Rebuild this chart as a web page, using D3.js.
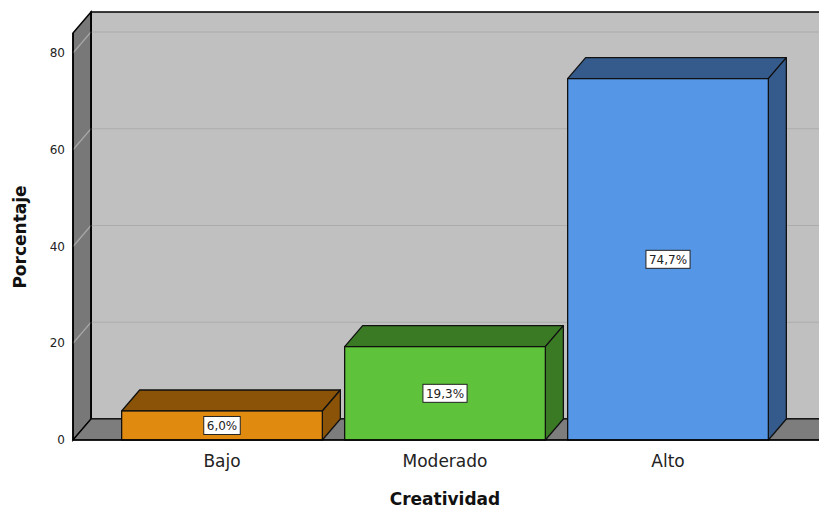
<!DOCTYPE html>
<html><head><meta charset="utf-8">
<script src="https://cdn.jsdelivr.net/npm/d3@7"></script>
<style>body{margin:0;background:#fff}svg{display:block}</style>
</head><body><svg id="c" width="819" height="508"></svg>
<script>
const categories = ["Bajo", "Moderado", "Alto"];
const values = [6.0, 19.3, 74.7];
const valueLabels = ["6,0%", "19,3%", "74,7%"];
const yTicks = [0, 20, 40, 60, 80];
const frontColors = ["#e08b10", "#5ec33a", "#5596e6"];
const darkColors = ["#8a5308", "#3b7a24", "#355b8c"];

const svg = d3.select("#c");
const font = "'DejaVu Sans', sans-serif";
const dx = 18, dy = -21;
const y = d3.scaleLinear().domain([0, 80]).range([440, 53]);
const x = d3.scaleBand().domain(categories).range([110.5, 779.5]).paddingInner(0.1).paddingOuter(0.05);
const left = 73, right = 840, topY = 12;
const y0 = y(0);

// back wall
svg.append("rect").attr("x", left + dx).attr("y", topY).attr("width", right - left).attr("height", y0 + dy - topY)
  .attr("fill", "#c0c0c0").attr("stroke", "#000").attr("stroke-width", 1.5);
// left wall
svg.append("path").attr("d", `M${left},${y(0)}L${left},${topY - dy}L${left + dx},${topY}L${left + dx},${y0 + dy}Z`)
  .attr("fill", "#787878").attr("stroke", "#000").attr("stroke-width", 1.5);
// floor
svg.append("path").attr("d", `M${left},${y0}L${left + dx},${y0 + dy}L${right + dx},${y0 + dy}L${right},${y0}Z`)
  .attr("fill", "#7d7d7d").attr("stroke", "#000").attr("stroke-width", 1.2);

// gridlines
yTicks.filter(t => t > 0).forEach(t => {
  svg.append("line").attr("x1", left + dx).attr("x2", right + dx).attr("y1", y(t) + dy).attr("y2", y(t) + dy)
    .attr("stroke", "#acacac").attr("stroke-width", 1.2);
  svg.append("line").attr("x1", left).attr("x2", left + dx).attr("y1", y(t)).attr("y2", y(t) + dy)
    .attr("stroke", "#a8a8a8").attr("stroke-width", 1.2);
});
// redraw left wall edges
svg.append("line").attr("x1", left + dx).attr("x2", left + dx).attr("y1", topY).attr("y2", y0 + dy).attr("stroke", "#000").attr("stroke-width", 1.5);
svg.append("line").attr("x1", left).attr("x2", left).attr("y1", topY - dy).attr("y2", y0).attr("stroke", "#000").attr("stroke-width", 1.5);

// y tick labels
svg.selectAll(".yt").data(yTicks).enter().append("text")
  .attr("x", 65).attr("y", d => y(d)).attr("dy", "0.35em").attr("text-anchor", "end")
  .attr("font-family", font).attr("font-size", 12).attr("fill", "#222").text(d => d);

// bars
categories.forEach((c, i) => {
  const x0 = x(c), w = x.bandwidth(), yt = y(values[i]);
  const g = svg.append("g");
  g.append("path").attr("d", `M${x0},${yt}L${x0 + dx},${yt + dy}L${x0 + w + dx},${yt + dy}L${x0 + w},${yt}Z`)
    .attr("fill", darkColors[i]).attr("stroke", "#111").attr("stroke-width", 1.3).attr("stroke-linejoin", "round");
  g.append("path").attr("d", `M${x0 + w},${yt}L${x0 + w + dx},${yt + dy}L${x0 + w + dx},${y0 + dy}L${x0 + w},${y0}Z`)
    .attr("fill", darkColors[i]).attr("stroke", "#111").attr("stroke-width", 1.3).attr("stroke-linejoin", "round");
  g.append("rect").attr("x", x0).attr("y", yt).attr("width", w).attr("height", y0 - yt)
    .attr("fill", frontColors[i]).attr("stroke", "#111").attr("stroke-width", 1.3);
  const cx = x0 + w / 2, cy = (yt + y0) / 2;
  const t = g.append("text").attr("x", cx).attr("y", cy).attr("dy", "0.35em").attr("text-anchor", "middle")
    .attr("font-family", font).attr("font-size", 12).attr("fill", "#222").text(valueLabels[i]);
  const bb = t.node().getBBox();
  g.insert("rect", "text").attr("x", bb.x - 3).attr("y", cy - 9).attr("width", bb.width + 6).attr("height", 18)
    .attr("fill", "#fff").attr("stroke", "#222").attr("stroke-width", 1);
});

// base line
svg.append("line").attr("x1", left).attr("x2", 819).attr("y1", y0).attr("y2", y0).attr("stroke", "#000").attr("stroke-width", 1.5);

// x labels
svg.selectAll(".xl").data(categories).enter().append("text")
  .attr("x", d => x(d) + x.bandwidth() / 2).attr("y", 467).attr("text-anchor", "middle")
  .attr("font-family", font).attr("font-size", 17).attr("fill", "#222").text(d => d);

svg.append("text").attr("x", 445).attr("y", 505).attr("text-anchor", "middle")
  .attr("font-family", font).attr("font-size", 17).attr("font-weight", "bold").attr("fill", "#111").text("Creatividad");
svg.append("text").attr("transform", "translate(26,237) rotate(-90)").attr("text-anchor", "middle")
  .attr("font-family", font).attr("font-size", 17).attr("font-weight", "bold").attr("fill", "#111").text("Porcentaje");
</script></body></html>
